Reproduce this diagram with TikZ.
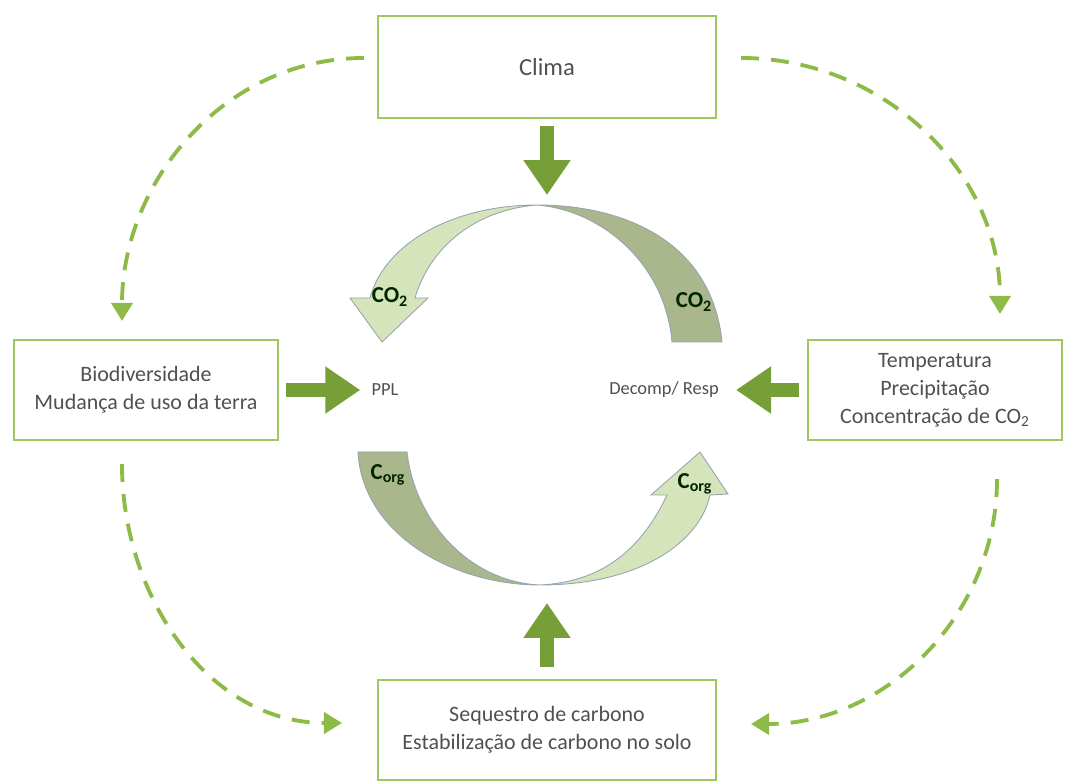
\documentclass[tikz,border=0pt]{standalone}
\usepackage{fontspec}
\setmainfont{Carlito}
\usetikzlibrary{arrows.meta,calc}

\definecolor{boxgreen}{RGB}{158,198,98}
\definecolor{dashgreen}{RGB}{142,186,72}
\definecolor{arrgreen}{RGB}{118,160,55}
\definecolor{cresdark}{RGB}{170,182,140}
\definecolor{creslight}{RGB}{214,228,188}
\definecolor{cresline}{RGB}{150,165,175}
\definecolor{txtgray}{RGB}{80,80,80}

\begin{document}
\begin{tikzpicture}[x=0.02cm,y=0.02cm,
  box/.style={draw=boxgreen,line width=1.2pt,align=center,text=txtgray,
    font=\fontsize{12.5}{16}\selectfont,minimum height=2cm},
  inner/.style={text=txtgray,font=\fontsize{10.5}{12}\selectfont,inner sep=0pt},
  lbl/.style={text=black!85!green,font=\fontsize{13}{14}\selectfont\bfseries},
  blockarr/.style={draw=arrgreen,line width=0.28cm,
    -{Triangle[length=0.7cm,width=0.9cm]}},
  dasharr/.style={draw=dashgreen,line width=2.2pt,dash pattern=on 0.36cm off 0.24cm,
    -{Triangle[length=0.36cm,width=0.42cm]}},
  crestail/.style={fill=cresdark,draw=cresline,line width=0.5pt},
  creshead/.style={fill=creslight,draw=cresline,line width=0.5pt}]

  \useasboundingbox (0,0) rectangle (1066,782);

  % boites
  \node[box,minimum width=6.76cm,minimum height=2.04cm,font=\fontsize{14}{16}\selectfont] (clima) at (547,715) {Clima};
  \node[box,minimum width=5.28cm] (bio) at (146,392) {Biodiversidade\\Mudança de uso da terra};
  \node[box,minimum width=5.08cm] (temp) at (935,392) {Temperatura\\Precipitação\\Concentração de CO\textsubscript{2}};
  \node[box,minimum width=6.76cm] (seq) at (547,52) {Sequestro de carbono\\Estabilização de carbono no solo};

  % ciclo
  \node[inner] (ppl) at (385,392) {PPL};
  \node[inner] (decomp) at (664,392) {Decomp/ Resp};
  \coordinate (ctop) at (547,587);
  \coordinate (cbot) at (547,179);

  \filldraw[creshead] (537,577) .. controls (455,577) and (385,540) .. (370,484)
    -- (350,484) -- (382,440) -- (428,484) -- (415,484)
    .. controls (430,535) and (475,572) .. cycle;
  \filldraw[crestail] (537,577) .. controls (625,577) and (712,540) .. (722,440)
    -- (672,440) .. controls (665,520) and (600,572) .. cycle;
  \filldraw[crestail] (358,330) -- (407,330) .. controls (415,260) and (470,200) .. (540,197)
    .. controls (450,197) and (362,250) .. cycle;
  \filldraw[creshead] (540,197) .. controls (640,197) and (700,240) .. (710,287)
    -- (728,288) -- (700,330) -- (651,287) -- (667,287)
    .. controls (640,230) and (600,200) .. cycle;

  \node[lbl] (co2a) at (390,485) {CO\textsubscript{2}};
  \node[lbl] (co2b) at (694,480) {CO\textsubscript{2}};
  \node[lbl] (corga) at (388,307) {C\textsubscript{org}};
  \node[lbl] (corgb) at (695,298) {C\textsubscript{org}};

  % fleches pleines
  \draw[blockarr,shorten <=0.14cm] (clima.south) -- (ctop);
  \draw[blockarr,shorten <=0.24cm] (seq.north) -- (cbot);
  \draw[blockarr,shorten <=0.14cm,shorten >=0.22cm] (bio.east) -- (ppl.west);
  \draw[blockarr,shorten <=0.16cm,shorten >=0.34cm] (temp.west) -- (decomp.east);

  % fleches pointillees
  \draw[dasharr] ($(clima.west)+(-13,9)$) to[out=180,in=90] ($(bio.north)+(-24,18)$);
  \draw[dasharr] ($(clima.east)+(24,9)$) to[out=0,in=90] ($(temp.north)+(65,25)$);
  \draw[dasharr] ($(bio.south)+(-24,-23)$) to[out=270,in=180] ($(seq.west)+(-35,7)$);
  \draw[dasharr] ($(temp.south)+(62,-38)$) to[out=270,in=0] ($(seq.east)+(34,6)$);
\end{tikzpicture}
\end{document}
